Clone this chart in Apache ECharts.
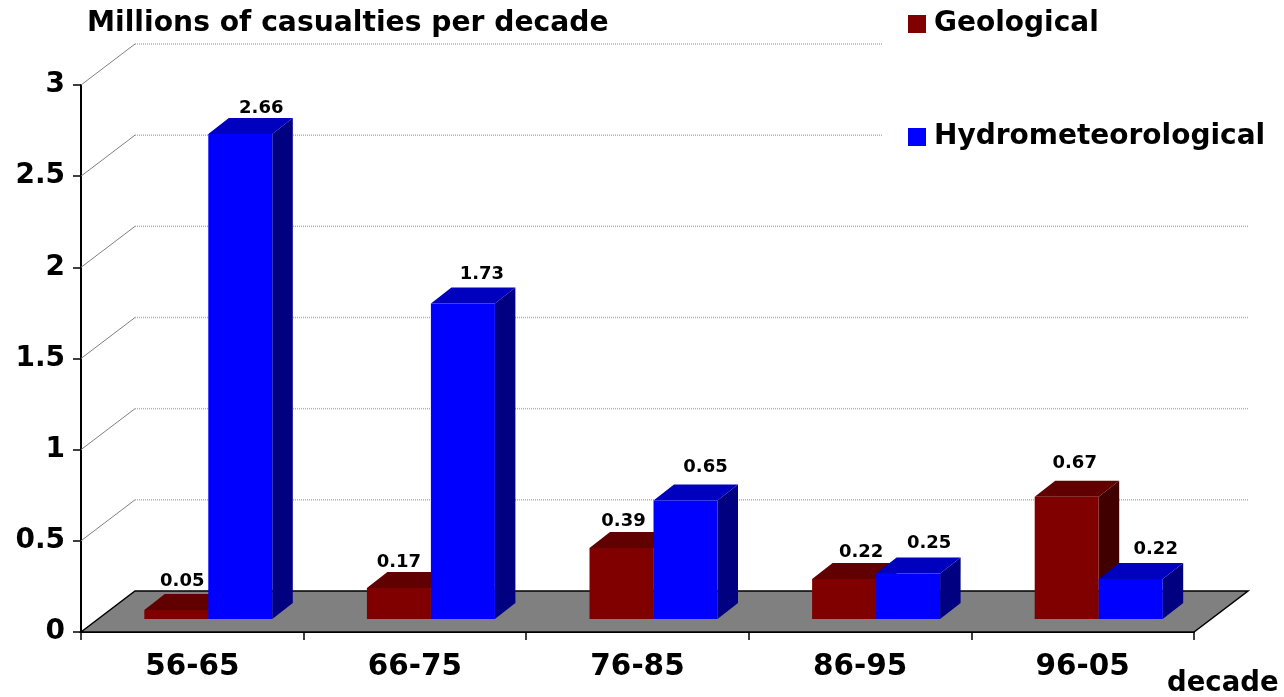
<!DOCTYPE html>
<html>
<head>
<meta charset="utf-8">
<title>Millions of casualties per decade</title>
<script src="https://cdn.jsdelivr.net/npm/echarts@6/dist/echarts.min.js"></script>
<style>
html, body { margin: 0; padding: 0; background: #fff; }
#main { width: 1284px; height: 697px; }
</style>
</head>
<body>
<div id="main"></div>
<script>
var decades = ['56-65', '66-75', '76-85', '86-95', '96-05'];
var geological = [0.05, 0.17, 0.39, 0.22, 0.67];
var hydrometeorological = [2.66, 1.73, 0.65, 0.25, 0.22];
var yTicks = [0.5, 1, 1.5, 2, 2.5, 3];

var FONT = '"DejaVu Sans", Verdana, sans-serif';

// perspective offsets, in pixels
var wallDx = 54, wallDy = -41;
var barDx = 20.5, barDy = -16;
var floorInset = -13;   // bars stand a little way back on the floor
var groupShift = 16;

// value labels were placed by hand in the original, so each has its own nudge
var redNudge = [[6, -29], [0, -26], [2, -27], [17, -27], [8, -34]];
var blueNudge = [[21, -26], [19, -29], [20, -33], [21, -30], [25, -30]];

function renderWall(params, api) {
    var rect = params.coordSys;
    var p = api.coord([0, api.value(1)]);
    var x0 = rect.x, x1 = rect.x + rect.width;
    return {
        type: 'group',
        children: [{
            type: 'line',
            shape: { x1: x0, y1: p[1], x2: x0 + wallDx, y2: p[1] + wallDy },
            style: { stroke: '#808080', lineWidth: 1 }
        }, {
            type: 'line',
            shape: { x1: x0 + wallDx, y1: p[1] + wallDy, x2: x1 + wallDx, y2: p[1] + wallDy },
            style: { stroke: '#b0b0b0', lineWidth: 1.5, lineDash: [1, 1] }
        }]
    };
}

function renderFloor(params, api) {
    var rect = params.coordSys;
    var y = api.coord([0, 0])[1];
    var x0 = rect.x, x1 = rect.x + rect.width;
    return {
        type: 'polygon',
        shape: { points: [[x0, y], [x0 + wallDx, y + wallDy], [x1 + wallDx, y + wallDy], [x1, y]] },
        style: { fill: '#808080', stroke: '#000', lineWidth: 1.5 }
    };
}

// one 3d column: front, top and side faces plus its value label
function makeBarRenderer(front, top, side, isLeft, nudge) {
    return function (params, api) {
        var i = api.value(0);
        var v = api.value(1);
        var c = api.coord([i, 0]);
        var w = api.size([1, 0])[0] * 0.2875;
        var x = c[0] + groupShift - (isLeft ? w : 0);
        var yb = c[1] + floorInset;
        var yt = api.coord([i, v])[1] + floorInset;
        return {
            type: 'group',
            children: [{
                type: 'polygon',
                shape: { points: [[x + w, yt], [x + w + barDx, yt + barDy], [x + w + barDx, yb + barDy], [x + w, yb]] },
                style: { fill: side }
            }, {
                type: 'polygon',
                shape: { points: [[x, yt], [x + barDx, yt + barDy], [x + w + barDx, yt + barDy], [x + w, yt]] },
                style: { fill: top }
            }, {
                type: 'rect',
                shape: { x: x, y: yt, width: w, height: yb - yt },
                style: { fill: front }
            }, {
                type: 'text',
                style: {
                    text: v.toFixed(2),
                    x: x + w / 2 + nudge[i][0],
                    y: yt + nudge[i][1],
                    textAlign: 'center',
                    textVerticalAlign: 'middle',
                    fill: '#000',
                    font: 'bold 18px ' + FONT
                }
            }]
        };
    };
}

var myChart = echarts.init(document.getElementById('main'));

var option = {
    animation: false,
    backgroundColor: '#fff',
    title: [{
        text: 'Millions of casualties per decade',
        left: 82, top: 5,
        textStyle: { color: '#000', fontFamily: FONT, fontWeight: 'bold', fontSize: 28.2 }
    }, {
        text: 'decade',
        left: 1162, top: 665,
        textStyle: { color: '#000', fontFamily: FONT, fontWeight: 'bold', fontSize: 27.5 }
    }],
    legend: {
        data: ['Geological', 'Hydrometeorological'],
        orient: 'vertical',
        left: 883, top: 0,
        padding: [10, 15, 16, 25],
        backgroundColor: '#fff',
        itemWidth: 18, itemHeight: 18,
        itemGap: 85,
        icon: 'rect',
        selectedMode: false,
        textStyle: { color: '#000', fontFamily: FONT, fontWeight: 'bold', fontSize: 28, padding: [0, 0, 0, 3] }
    },
    grid: { left: 81, right: 90, top: 85, bottom: 65 },
    xAxis: {
        type: 'category',
        data: decades,
        axisLine: { onZero: false, lineStyle: { color: '#000', width: 2 } },
        axisTick: { show: true, length: 8, lineStyle: { color: '#000', width: 1.5 } },
        axisLabel: { color: '#000', fontFamily: FONT, fontWeight: 'bold', fontSize: 29.5, margin: 20 }
    },
    yAxis: {
        type: 'value',
        min: 0, max: 3, interval: 0.5,
        splitLine: { show: false },
        axisLine: { show: true, lineStyle: { color: '#000', width: 2 } },
        axisTick: { show: true, length: 8, lineStyle: { color: '#000', width: 1.5 } },
        axisLabel: { color: '#000', fontFamily: FONT, fontWeight: 'bold', fontSize: 28, margin: 16, padding: [4, 0, 0, 0] }
    },
    series: [{
        type: 'custom',
        name: 'wall',
        z: 1,
        silent: true,
        renderItem: renderWall,
        data: yTicks.map(function (v) { return [0, v]; })
    }, {
        type: 'custom',
        name: 'floor',
        z: 1,
        silent: true,
        renderItem: renderFloor,
        data: [[0, 0]]
    }, {
        type: 'custom',
        name: 'Geological',
        z: 2,
        itemStyle: { color: '#800000' },
        renderItem: makeBarRenderer('#800000', '#600000', '#400000', true, redNudge),
        data: geological.map(function (v, i) { return [i, v]; })
    }, {
        type: 'custom',
        name: 'Hydrometeorological',
        z: 3,
        itemStyle: { color: '#0000ff' },
        renderItem: makeBarRenderer('#0000ff', '#0000bf', '#000080', false, blueNudge),
        data: hydrometeorological.map(function (v, i) { return [i, v]; })
    }]
};

myChart.setOption(option);
</script>
</body>
</html>
